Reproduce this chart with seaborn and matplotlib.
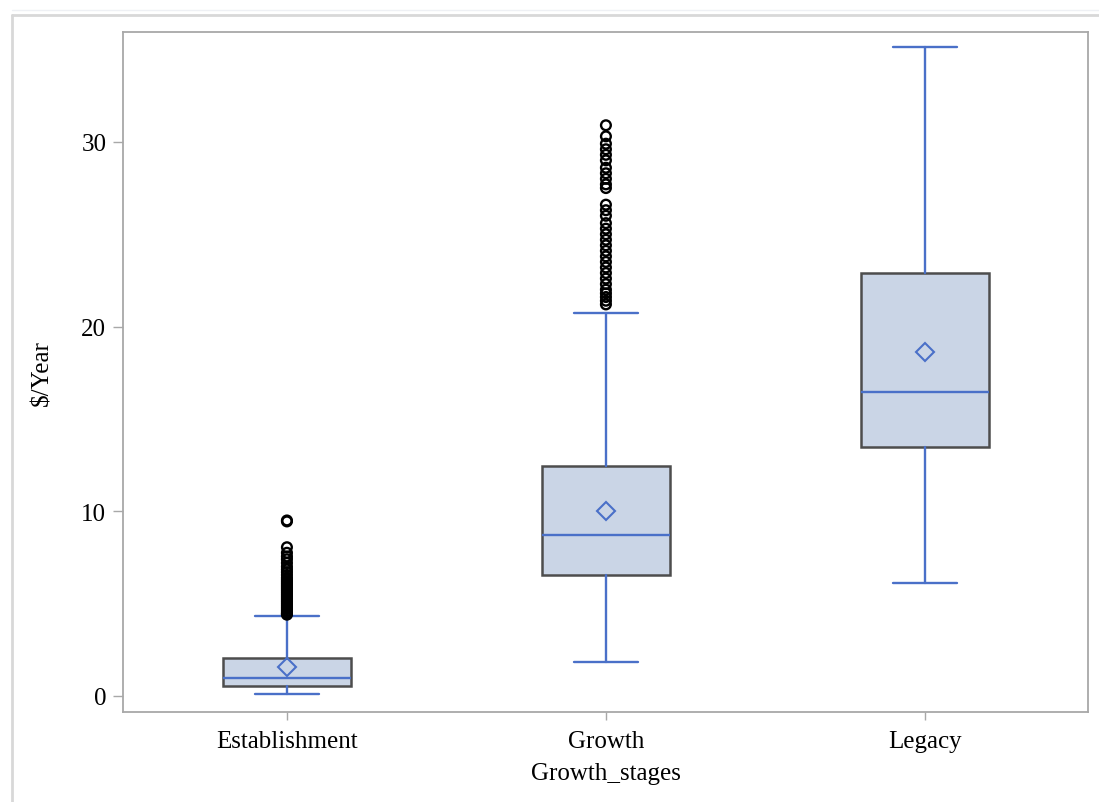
import matplotlib
matplotlib.use("Agg")
import matplotlib.pyplot as plt
import seaborn as sns
import pandas as pd
from matplotlib.lines import Line2D

# ---------------- data ----------------
stages = ["Establishment", "Growth", "Legacy"]
q1 = [0.54, 6.55, 13.48]
medians = [0.97, 8.72, 16.46]
q3 = [2.06, 12.45, 22.90]
means = [1.57, 10.00, 18.62]
whisker_low = [0.10, 1.84, 6.12]
whisker_high = [4.35, 20.74, 35.14]
establishment_outliers = [9.50, 9.45, 8.05, 7.75, 7.55, 7.40, 7.20, 7.00, 6.85, 6.70,
                          6.55, 6.40, 6.30, 6.20, 6.10, 6.00, 5.90, 5.80, 5.70, 5.60,
                          5.50, 5.40, 5.30, 5.20, 5.10, 5.00, 4.90, 4.80, 4.70, 4.60,
                          4.50, 4.45, 4.40]
growth_outliers = [30.90, 30.30, 29.90, 29.60, 29.30, 29.00, 28.60, 28.30, 28.00, 27.70,
                   27.50, 26.60, 26.30, 26.00, 25.60, 25.30, 25.00, 24.70, 24.40, 24.10,
                   23.80, 23.50, 23.20, 22.90, 22.60, 22.30, 22.00, 21.80, 21.60, 21.40,
                   21.20]
legacy_outliers = []
yticks = [0, 10, 20, 30]
x_title = "Growth_stages"
y_title = "\\$/Year"

# ---------------- style ----------------
sns.set_theme(style="white")
plt.rcParams["font.family"] = ["Liberation Serif", "DejaVu Serif"]

BLUE = "#4A70C8"
FILL = "#CAD5E6"
EDGE = "#4D4D4D"
SPINE = "#A8A8A8"

fig = plt.figure(figsize=(10.99, 8.03), dpi=100)
ax = fig.add_axes([0.1119, 0.1121, 0.878, 0.8468])

# outliers (open black circles) via seaborn
outlier_lists = [establishment_outliers, growth_outliers, legacy_outliers]
out_stage, out_value = [], []
for s, vals in zip(stages, outlier_lists):
    out_stage += [s] * len(vals)
    out_value += list(vals)
outlier_df = pd.DataFrame({"stage": out_stage, "value": out_value})
sns.stripplot(data=outlier_df, x="stage", y="value", order=stages, jitter=False,
              color="black", size=7.0, linewidth=1.7, ax=ax, zorder=4)
for coll in ax.collections:
    coll.set_facecolor("none")
    coll.set_edgecolor("black")

# boxes from the summary statistics
stats = []
for i, s in enumerate(stages):
    stats.append(dict(label=s, q1=q1[i], med=medians[i], q3=q3[i], mean=means[i],
                      whislo=whisker_low[i], whishi=whisker_high[i], fliers=[]))
ax.bxp(stats, positions=range(len(stages)), widths=0.4, capwidths=0.2,
       patch_artist=True, showmeans=True, showfliers=False, manage_ticks=False,
       boxprops=dict(facecolor=FILL, edgecolor=EDGE, linewidth=1.8),
       whiskerprops=dict(color=BLUE, linewidth=1.7),
       capprops=dict(color=BLUE, linewidth=1.7),
       medianprops=dict(color=BLUE, linewidth=1.7),
       meanprops=dict(marker="D", markerfacecolor="none", markeredgecolor=BLUE,
                      markersize=9, markeredgewidth=1.5))

ax.set_xlim(-0.514, 2.511)
ax.set_ylim(-0.87, 35.95)
ax.set_xticks(range(len(stages)))
ax.set_xticklabels(stages)
ax.set_yticks(yticks)
ax.tick_params(axis="both", which="major", bottom=True, left=True, direction="out",
               length=7, width=1.0, color=SPINE, labelsize=18, labelcolor="black", pad=5)
ax.tick_params(axis="x", length=6, pad=7)
for sp in ax.spines.values():
    sp.set_visible(True)
    sp.set_color(SPINE)
    sp.set_linewidth(1.3)
ax.set_xlabel(x_title, fontsize=18, color="black", labelpad=7)
ax.set_ylabel(y_title, fontsize=18, color="black", labelpad=20)
ax.grid(False)

# outer light frame
fig.add_artist(Line2D([12 / 1099, 1.0], [1 - 15.5 / 803] * 2, transform=fig.transFigure,
                      color="#D8D8D8", linewidth=2))
fig.add_artist(Line2D([12 / 1099] * 2, [0.0, 1 - 15.5 / 803], transform=fig.transFigure,
                      color="#D8D8D8", linewidth=2))
fig.add_artist(Line2D([12 / 1099, 1.0], [1 - 11 / 803] * 2, transform=fig.transFigure,
                      color="#EEF0F4", linewidth=1))

fig.savefig("out.png", dpi=100)
